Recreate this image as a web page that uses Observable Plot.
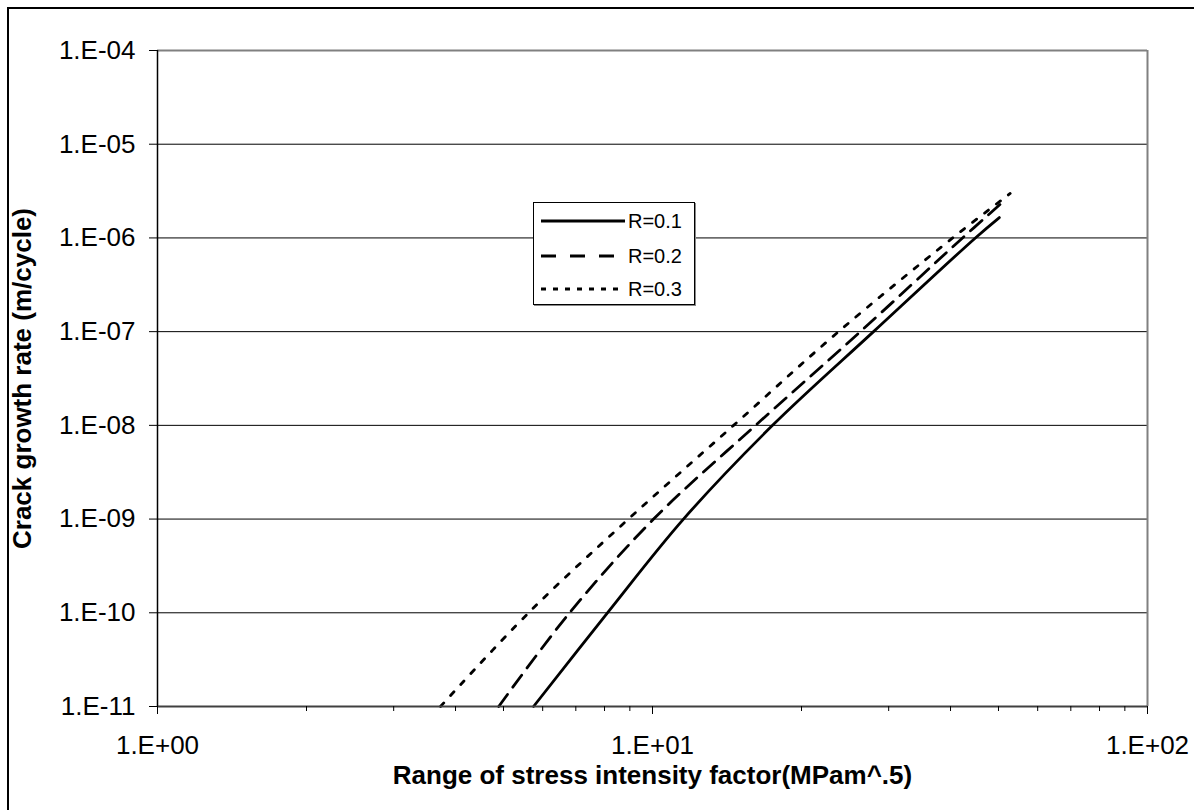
<!DOCTYPE html>
<html>
<head>
<meta charset="utf-8">
<script src="https://cdn.jsdelivr.net/npm/d3@7"></script>
<script src="https://cdn.jsdelivr.net/npm/@observablehq/plot@0.6"></script>
<style>
  html, body { margin: 0; padding: 0; background: #fff; overflow: hidden; }
  #wrap { position: relative; width: 1194px; height: 810px; font-family: "Liberation Sans", Arial, sans-serif; }
  #border { position: absolute; left: 7px; top: 7px; width: 1300px; height: 1000px; border-left: 2px solid #000; border-top: 2px solid #000; pointer-events: none; }
  #legend { position: absolute; left: 533px; top: 202px; width: 160px; height: 101px; border: 1px solid #000; background: #fff; box-shadow: 1px 1px 0 #888; }
  .row { position: absolute; left: 6px; height: 24px; display: flex; align-items: center; font-size: 20px; color: #000; }
  .row svg { margin-right: 3px; }
</style>
</head>
<body>
<div id="wrap">
  <div id="chart"></div>
  <div id="border"></div>
  <div id="legend"></div>
</div>
<script>
// Axis ticks
const yDecades = [1e-11, 1e-10, 1e-9, 1e-8, 1e-7, 1e-6, 1e-5, 1e-4];
const yTickLabels = ["1.E-11", "1.E-10", "1.E-09", "1.E-08", "1.E-07", "1.E-06", "1.E-05", "1.E-04"];
const xMajor = [1, 10, 100];
const xTickLabels = ["1.E+00", "1.E+01", "1.E+02"];
const xMinor = [2, 3, 4, 5, 6, 7, 8, 9, 20, 30, 40, 50, 60, 70, 80, 90];

// Series: R = 0.1 (solid)
const dK_R01 = [5.75, 8.11, 11.55, 17.48, 27.96, 44.9, 50.2];
const da_R01 = [1e-11, 1e-10, 1e-9, 1e-8, 1e-7, 1e-6, 1.65e-6];
// R = 0.2 (dashed)
const dK_R02 = [4.89, 6.80, 10.05, 16.15, 26.3, 42.3, 50.9];
const da_R02 = [1e-11, 1e-10, 1e-9, 1e-8, 1e-7, 1e-6, 2.39e-6];
// R = 0.3 (dotted)
const dK_R03 = [3.73, 5.62, 8.94, 14.58, 23.76, 40.4, 52.8];
const da_R03 = [1e-11, 1e-10, 1e-9, 1e-8, 1e-7, 1e-6, 2.98e-6];

const seriesNames = ["R=0.1", "R=0.2", "R=0.3"];
const dashes = [null, "15,9", "5,10"];
const legendDashes = [null, "15,14", "5,7"];

const toRows = (xs, ys) => xs.map((x, i) => ({x, y: ys[i]}));
const series = [toRows(dK_R01, da_R01), toRows(dK_R02, da_R02), toRows(dK_R03, da_R03)];

const font = "'Liberation Sans', Arial, sans-serif";

const chart = Plot.plot({
  width: 1194,
  height: 810,
  marginLeft: 157,
  marginRight: 47,
  marginTop: 50,
  marginBottom: 104,
  style: { fontFamily: font, background: "transparent", color: "#000" },
  x: { type: "log", domain: [1, 100] },
  y: { type: "log", domain: [1e-11, 1e-4] },
  marks: [
    Plot.ruleY(yDecades.slice(1, -1), { stroke: "#000", strokeWidth: 1 }),
    Plot.ruleY([1e-4], { stroke: "#808080", strokeWidth: 2 }),
    Plot.ruleX([100], { stroke: "#808080", strokeWidth: 2 }),
    ...series.map((s, i) => Plot.line(s, {
      x: "x", y: "y", stroke: "#000", strokeWidth: 2.8, curve: "catmull-rom",
      strokeDasharray: dashes[i] ?? undefined
    })),
    Plot.ruleY([1e-11], { stroke: "#404040", strokeWidth: 2 }),
    Plot.ruleX([1], { stroke: "#000", strokeWidth: 1.5 }),
    Plot.axisY({
      ticks: yDecades,
      tickFormat: d => yTickLabels[Math.round(Math.log10(d)) + 11],
      tickSize: 8, tickPadding: 14, fontSize: 26, label: null, stroke: "#000"
    }),
    Plot.axisX({
      ticks: xMajor,
      tickFormat: d => xTickLabels[Math.round(Math.log10(d))],
      tickSize: 8, tickPadding: 21, fontSize: 26, label: null, stroke: "#000"
    }),
    Plot.axisX({
      ticks: xMinor, tickFormat: () => "", tickSize: 5, label: null, stroke: "#000"
    }),
    Plot.text(["Crack growth rate (m/cycle)"], {
      frameAnchor: "left", dx: -135, rotate: -90, textAnchor: "middle", lineAnchor: "middle",
      fontSize: 26, fontWeight: "bold", fill: "#000"
    }),
    Plot.text(["Range of stress intensity factor(MPam^.5)"], {
      frameAnchor: "bottom", dy: 69, textAnchor: "middle", lineAnchor: "middle",
      fontSize: 26, fontWeight: "bold", fill: "#000"
    })
  ]
});
document.getElementById("chart").appendChild(chart);

// Legend
const legend = document.getElementById("legend");
const rowTops = [6, 41, 74];
seriesNames.forEach((name, i) => {
  const row = document.createElement("div");
  row.className = "row";
  row.style.top = rowTops[i] + "px";
  const ns = "http://www.w3.org/2000/svg";
  const svg = document.createElementNS(ns, "svg");
  svg.setAttribute("width", 85);
  svg.setAttribute("height", 24);
  const ln = document.createElementNS(ns, "line");
  ln.setAttribute("x1", 1); ln.setAttribute("x2", 85);
  ln.setAttribute("y1", 12); ln.setAttribute("y2", 12);
  ln.setAttribute("stroke", "#000");
  ln.setAttribute("stroke-width", 2.8);
  if (legendDashes[i]) ln.setAttribute("stroke-dasharray", legendDashes[i]);
  svg.appendChild(ln);
  row.appendChild(svg);
  const t = document.createElement("span");
  t.textContent = name;
  row.appendChild(t);
  legend.appendChild(row);
});
</script>
</body>
</html>
